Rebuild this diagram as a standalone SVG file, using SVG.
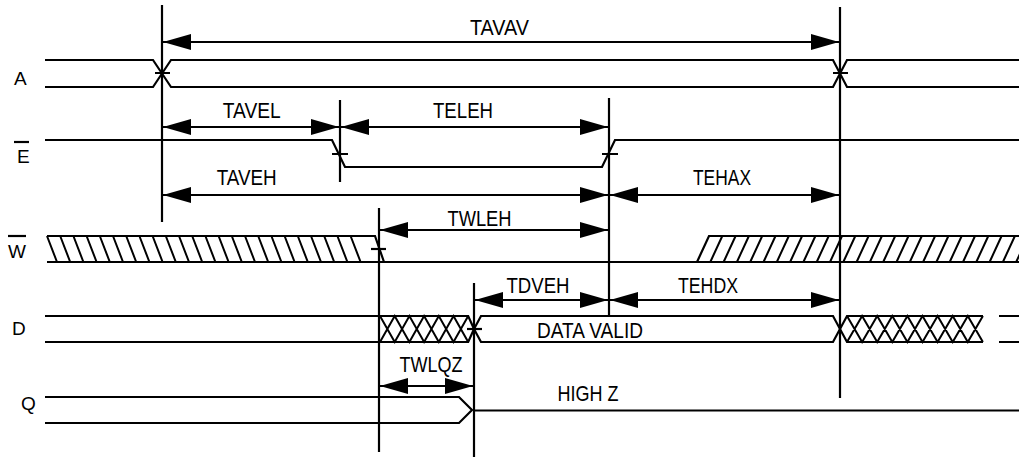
<svg xmlns="http://www.w3.org/2000/svg" width="1019" height="457" viewBox="0 0 1019 457">
<style>
.s{fill:none;stroke:#000;stroke-width:2.2;stroke-linejoin:miter}
.h{fill:none;stroke:#000;stroke-width:2}
.v{fill:none;stroke:#000;stroke-width:2.2}
.a{fill:none;stroke:#000;stroke-width:2.2;marker-start:url(#ah);marker-end:url(#ah)}
.t{font-family:"Liberation Sans",Arial,sans-serif;font-size:22px;fill:#000;text-anchor:middle}
.l{font-family:"Liberation Sans",Arial,sans-serif;font-size:19px;fill:#000}
</style>
<defs>
<marker id="ah" viewBox="0 0 28 16" refX="28" refY="8" markerWidth="28" markerHeight="16" markerUnits="userSpaceOnUse" orient="auto-start-reverse">
<path d="M0,0 L28,8 L0,16 Z" fill="#000"/>
</marker>
</defs>
<rect width="1019" height="457" fill="#fff"/>

<g id="labels">
<text class="l" x="14" y="85">A</text>
<text class="l" x="17" y="163">E</text>
<line class="v" x1="14" y1="142" x2="29" y2="142"/>
<text class="l" x="8" y="258">W</text>
<line class="v" x1="8" y1="236" x2="26" y2="236"/>
<text class="l" x="12" y="335">D</text>
<text class="l" x="21" y="410">Q</text>
</g>

<g id="signal-A">
<path class="s" d="M45,60 H153 L171,87 H833 L847,60 H1019 M45,87 H153 L171,60 H833 L847,87 H1019"/>
<path class="s" d="M155,73 H170 M833,73 H848"/>
</g>

<g id="signal-E">
<path class="s" d="M45,140 H332 L345,167 H602 L615,140 H1019"/>
<path class="s" d="M332,154 H348 M602,154 H618"/>
</g>

<g id="signal-W">
<path class="s" d="M47,236 H375 L384,262 M47,262 H1019 M697,262 L709,236 H1019"/>
<path class="s" d="M371,249 H386"/>
<path class="h" d="M47,236 l10,26 m3.2,-26 l10,26 m3.2,-26 l10,26 m3.2,-26 l10,26 m3.2,-26 l10,26 m3.2,-26 l10,26 m3.2,-26 l10,26 m3.2,-26 l10,26 m3.2,-26 l10,26 m3.2,-26 l10,26 m3.2,-26 l10,26 m3.2,-26 l10,26 m3.2,-26 l10,26 m3.2,-26 l10,26 m3.2,-26 l10,26 m3.2,-26 l10,26 m3.2,-26 l10,26 m3.2,-26 l10,26 m3.2,-26 l10,26 m3.2,-26 l10,26 m3.2,-26 l10,26 m3.2,-26 l10,26 m3.2,-26 l10,26 m3.2,-26 l10,26"/>
<path class="h" d="M710.3,262 l12,-26 m1.3,26 l12,-26 m1.3,26 l12,-26 m1.3,26 l12,-26 m1.3,26 l12,-26 m1.3,26 l12,-26 m1.3,26 l12,-26 m1.3,26 l12,-26 m1.3,26 l12,-26 m1.3,26 l12,-26 m1.3,26 l12,-26 m1.3,26 l12,-26 m1.3,26 l12,-26 m1.3,26 l12,-26 m1.3,26 l12,-26 m1.3,26 l12,-26 m1.3,26 l12,-26 m1.3,26 l12,-26 m1.3,26 l12,-26 m1.3,26 l12,-26 m1.3,26 l12,-26 m1.3,26 l12,-26 m1.3,26 l12,-26 m1.3,26 l12,-26"/>
</g>

<g id="signal-D">
<path class="s" d="M45,316 H468.2 L474,329 L481,316 H833 L840,329 L847,316 H983 M999,316 H1019"/>
<path class="s" d="M45,342 H468.2 L474,329 L481,342 H833 L840,329 L847,342 H983 M999,342 H1019"/>
<path class="h" d="M380,316 L394.7,342 L409.4,316 L424.1,342 L438.8,316 L453.5,342 L468.2,316 M380,342 L394.7,316 L409.4,342 L424.1,316 L438.8,342 L453.5,316 L468.2,342"/>
<path class="h" d="M847,316 L862.1,342 L877.2,316 L892.3,342 L907.4,316 L922.5,342 L937.6,316 L952.7,342 L967.8,316 L982.9,342 M847,342 L862.1,316 L877.2,342 L892.3,316 L907.4,342 L922.5,316 L937.6,342 L952.7,316 L967.8,342 L982.9,316"/>
<path class="s" d="M467,329 H482"/>
<text class="t" x="590" y="337.5" textLength="106" lengthAdjust="spacingAndGlyphs">DATA VALID</text>
</g>

<g id="signal-Q">
<path class="s" d="M45,397 H459 L472,410 L459,423 H45 M474,410.5 H1019"/>
<text class="t" x="588" y="401" textLength="61" lengthAdjust="spacingAndGlyphs">HIGH Z</text>
</g>

<g id="reference-lines">
<line class="v" x1="162" y1="5" x2="162" y2="222"/>
<line class="v" x1="340" y1="100" x2="340" y2="182"/>
<line class="v" x1="609" y1="98" x2="609" y2="316"/>
<line class="v" x1="840" y1="7" x2="840" y2="398"/>
<line class="v" x1="379" y1="208" x2="379" y2="452"/>
<line class="v" x1="474" y1="283" x2="474" y2="457"/>
</g>

<g id="connectors">
<line class="a" x1="163" y1="42" x2="839" y2="42"/>
<line class="a" x1="163" y1="127" x2="339" y2="127"/>
<line class="a" x1="341" y1="127" x2="608" y2="127"/>
<line class="a" x1="163" y1="195" x2="608" y2="195"/>
<line class="a" x1="610" y1="195" x2="839" y2="195"/>
<line class="a" x1="380" y1="230" x2="608" y2="230"/>
<line class="a" x1="475" y1="300" x2="608" y2="300"/>
<line class="a" x1="610" y1="300" x2="839" y2="300"/>
<line class="a" x1="380" y1="386" x2="473" y2="386"/>
</g>

<g id="timing-labels">
<text class="t" x="499.5" y="34.5" textLength="59" lengthAdjust="spacingAndGlyphs">TAVAV</text>
<text class="t" x="251.7" y="117.5" textLength="58" lengthAdjust="spacingAndGlyphs">TAVEL</text>
<text class="t" x="463" y="117.5" textLength="60" lengthAdjust="spacingAndGlyphs">TELEH</text>
<text class="t" x="246.7" y="185" textLength="60" lengthAdjust="spacingAndGlyphs">TAVEH</text>
<text class="t" x="722" y="185" textLength="58" lengthAdjust="spacingAndGlyphs">TEHAX</text>
<text class="t" x="479.5" y="226" textLength="64" lengthAdjust="spacingAndGlyphs">TWLEH</text>
<text class="t" x="538" y="293" textLength="63" lengthAdjust="spacingAndGlyphs">TDVEH</text>
<text class="t" x="708" y="293" textLength="60" lengthAdjust="spacingAndGlyphs">TEHDX</text>
<text class="t" x="431" y="372" textLength="63" lengthAdjust="spacingAndGlyphs">TWLQZ</text>
</g>
</svg>
